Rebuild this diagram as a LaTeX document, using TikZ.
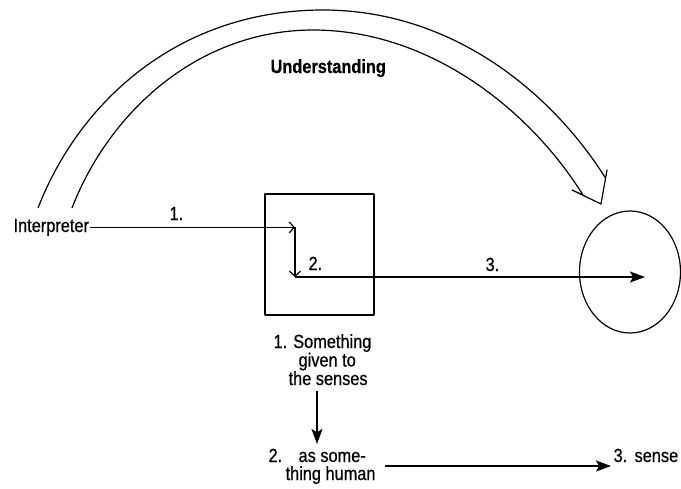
\documentclass[tikz,border=0pt]{standalone}
\usepackage{fontspec}
\setmainfont{Liberation Sans}[FakeStretch=0.86,FakeBold=0.6]
\usetikzlibrary{arrows.meta,shapes.geometric}
\begin{document}
\begin{tikzpicture}[x=1pt,y=-1pt,line width=1.2pt,line join=round,
  txt/.style={inner sep=0pt,anchor=base west,font=\fontsize{19pt}{18pt}\selectfont},
  boldtxt/.style={txt,font=\fontsize{19pt}{18pt}\selectfont\bfseries},
  filled/.style={-{Stealth[length=15pt,width=11pt,inset=3pt]}},
  openhead/.style={-{Straight Barb[length=5pt,width=11pt]}}]
\useasboundingbox (0,0) rectangle (681,488);
% big hollow arrow
\draw (38,208) .. controls (80,100) and (180,10) .. (323,10)
  .. controls (450,10) and (550,90) .. (605.5,178)
  -- (607,170) -- (601,204) -- (572,190) -- (583,195)
  .. controls (530,110) and (430,30) .. (313,30)
  .. controls (200,30) and (110,110) .. (72,208);
\node[boldtxt] (und) at (270,73) {Understanding};
% box and circle
\node[draw,minimum width=109pt,minimum height=121pt,inner sep=0pt] (box) at (319.5,254.5) {};
\node[draw,ellipse,minimum width=101pt,minimum height=122pt,inner sep=0pt] (circ) at (630,272) {};
% interpreter and arrows
\node[txt] (interp) at (13,232) {Interpreter};
\node[txt] (l1) at (169,220) {1.};
\node[txt] (l2) at (308,270) {2.};
\node[txt] (l3) at (485,271) {3.};
\coordinate (p1) at (295,227);
\coordinate (p2) at (295,277);
\coordinate (p3) at (645,277);
\draw[openhead] (interp.east) -- (interp.east -| p1);
\draw[openhead] (p1) -- (p2);
\draw[filled] (p2) -- (p3);
% lower texts
\node[txt] (s1) at (273,348) {1. Something};
\node[txt] (s2) at (298,366.5) {given to};
\node[txt] (s3) at (288,385) {the senses};
\coordinate (d1) at (317,391);
\coordinate (d2) at (317,444);
\draw[filled] (d1) -- (d2);
\node[txt] (n2) at (268,462) {2.};
\node[txt] (h1) at (298,462) {as some-};
\node[txt] (h2) at (285,480) {thing human};
\node[txt] (n3) at (613,462) {3.};
\node[txt] (sense) at (634,462) {sense};
\coordinate (b1) at (385,466);
\coordinate (b2) at (611,466);
\draw[filled] (b1) -- (b2);
\end{tikzpicture}
\end{document}
